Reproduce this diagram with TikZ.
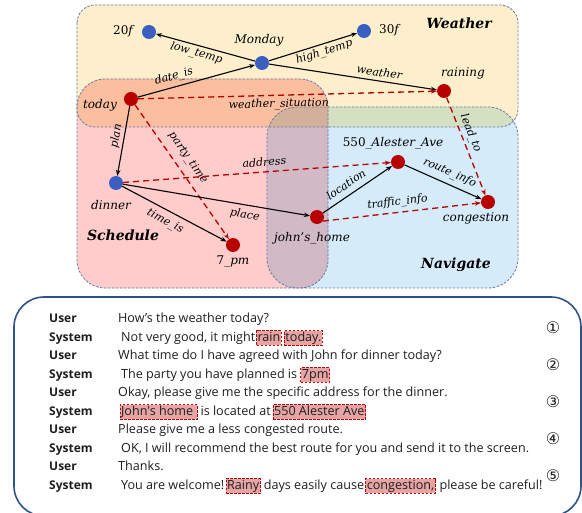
\documentclass[tikz,border=0pt]{standalone}
\usepackage{fontspec}
\usetikzlibrary{arrows.meta}
\newfontfamily\gfont{DejaVu Serif}
\newfontfamily\dfont{Open Sans}
\newfontfamily\cfont{DejaVu Sans}

\definecolor{wfill}{RGB}{253,239,204}
\definecolor{sfill}{RGB}{255,204,204}
\definecolor{nfill}{RGB}{213,235,250}
\definecolor{wsfill}{RGB}{251,191,160}
\definecolor{wnfill}{RGB}{212,224,194}
\definecolor{snfill}{RGB}{209,186,198}
\definecolor{wsnfill}{RGB}{211,176,153}
\definecolor{rborder}{RGB}{105,120,160}
\definecolor{entblue}{RGB}{59,95,192}
\definecolor{entred}{RGB}{183,0,0}
\definecolor{hlred}{RGB}{192,0,0}
\definecolor{hlfill}{RGB}{230,165,165}
\definecolor{panelblue}{RGB}{47,82,143}
\definecolor{txt}{RGB}{30,30,30}

\begin{document}
\begin{tikzpicture}[x=1pt,y=-1pt,
  region/.style={draw=rborder, dash pattern=on 2.5pt off 1.5pt, line width=0.8pt},
  ent/.style={circle, minimum size=14pt, inner sep=0pt},
  bent/.style={ent, fill=entblue},
  rent/.style={ent, fill=entred},
  nlab/.style={font=\gfont\itshape\fontsize{12}{14}\selectfont, inner sep=0pt},
  elab/.style={font=\gfont\itshape\fontsize{11}{13}\selectfont, inner sep=1pt, sloped, text=black},
  regtitle/.style={font=\gfont\bfseries\itshape\fontsize{14}{16}\selectfont, inner sep=0pt},
  rel/.style={-{Stealth[length=6pt,width=4.5pt]}, line width=1.1pt, black},
  hint/.style={-{Stealth[length=6pt,width=4.5pt]}, line width=1.3pt, entred, dash pattern=on 6pt off 4pt},
  spk/.style={font=\dfont\bfseries\fontsize{12}{14}\selectfont, anchor=base west, inner sep=0pt, text=txt},
  utt/.style={font=\dfont\fontsize{12.6}{14}\selectfont, anchor=base west, inner sep=0pt, text=txt},
  hl/.style={utt, draw=hlred, fill=hlfill, line width=1.1pt, dash pattern=on 2.5pt off 1.5pt,
             inner xsep=1pt, inner ysep=1.2pt, text height=9.5pt, text depth=2.8pt},
  stepno/.style={font=\cfont\fontsize{16}{18}\selectfont, inner sep=0pt, text=txt},
  panel/.style={draw=panelblue, line width=1.6pt, rounded corners=30pt}
]
\useasboundingbox (0,0) rectangle (582,513);

% ---------- domain regions ----------
\def\weatherarea{[rounded corners=18pt] (77,5) rectangle (518,127)}
\def\schedarea{[rounded corners=28pt] (77,79) rectangle (328,288)}
\def\navarea{[rounded corners=30pt] (267,107) rectangle (518,288)}

\fill[wfill] \weatherarea;
\fill[sfill] \schedarea;
\fill[nfill] \navarea;
\begin{scope}
  \clip \weatherarea;
  \fill[wsfill] \schedarea;
  \fill[wnfill] \navarea;
\end{scope}
\begin{scope}
  \clip \schedarea;
  \fill[snfill] \navarea;
  \clip \weatherarea;
  \fill[wsnfill] \navarea;
\end{scope}
\draw[region] \weatherarea;
\draw[region] \schedarea;
\draw[region] \navarea;

\node[regtitle] (tw) at (459,23) {Weather};
\node[regtitle] (ts) at (123,235) {Schedule};
\node[regtitle] (tn) at (456,265) {Navigate};

% ---------- entities ----------
\node[bent] (d20) at (149,32) {};
\node[bent] (mon) at (262,63) {};
\node[bent] (d30) at (364,31) {};
\node[rent] (rain) at (444,91) {};
\node[rent] (today) at (131,99) {};
\node[bent] (dinner) at (116,183) {};
\node[rent] (pm7) at (233,245) {};
\node[rent] (home) at (317,217) {};
\node[rent] (ave) at (398,162) {};
\node[rent] (cong) at (488,202) {};

\node[nlab] (l20) at (123,31) {\upshape 20\itshape f};
\node[nlab] (lmon) at (259,40) {Monday};
\node[nlab] (l30) at (389,30) {\upshape 30\itshape f};
\node[nlab] (lrain) at (463,73) {raining};
\node[nlab] (ltoday) at (100,105) {today};
\node[nlab] (ldinner) at (111,205) {dinner};
\node[nlab] (lpm7) at (233,262) {\upshape 7\itshape \_pm};
\node[nlab] (lhome) at (312,238) {john’s\_home};
\node[nlab] (lave) at (393,143) {\upshape 550\itshape \_Alester\_Ave};
\node[nlab] (lcong) at (476,218) {congestion};

% ---------- relations ----------
\draw[rel] (mon) -- node[elab, below=1pt, pos=0.57] {low\_temp} (d20);
\draw[rel] (mon) -- node[elab, below=1pt, pos=0.6] {high\_temp} (d30);
\draw[rel] (mon) -- node[elab, above=3pt, pos=0.65] {weather} (rain);
\draw[rel] (today) -- node[elab, above=3pt, pos=0.33] {date\_is} (mon);
\draw[hint] (today) -- node[elab, below=2pt, pos=0.47] {weather\_situation} (rain);
\draw[rel] (today) -- node[elab, above=1pt, pos=0.45] {plan} (dinner);
\draw[hint] (today) -- node[elab, above=6pt, pos=0.45] {party\_time} (pm7);
\draw[rel] (dinner) -- node[elab, below=4pt, pos=0.46] {time\_is} (pm7);
\draw[rel] (dinner) -- node[elab, below=3pt, pos=0.66] {place} (home);
\draw[hint] (dinner) -- node[elab, above=4pt, pos=0.53] {address} (ave);
\draw[rel] (home) -- node[elab, above=5pt, pos=0.42] {location} (ave);
\draw[rel] (ave) -- node[elab, above=4pt, pos=0.53] {route\_info} (cong);
\draw[hint] (home.-35) -- node[elab, above=3pt, pos=0.48] {traffic\_info} (cong);
\draw[hint] (rain) -- node[elab, above=2pt, pos=0.4] {lead\_to} (cong);

% ---------- dialogue ----------
\draw[panel] (14,297) rectangle (581,516);

\node[spk] (s1) at (49,323) {User};
\node[spk] (s2) at (49,341.5) {System};
\node[spk] (s3) at (49,360) {User};
\node[spk] (s4) at (49,378.5) {System};
\node[spk] (s5) at (49,397) {User};
\node[spk] (s6) at (49,415.5) {System};
\node[spk] (s7) at (49,434) {User};
\node[spk] (s8) at (49,452.5) {System};
\node[spk] (s9) at (49,471) {User};
\node[spk] (s10) at (49,489.5) {System};

\node[utt] (u1) at (118,323) {How’s the weather today?};
\node[utt] (u2a) at (121,341.5) {Not very good, it might};
\node[hl] (u2b) at ([xshift=0.5pt]u2a.base east) {rain};
\node[hl] (u2c) at ([xshift=2pt]u2b.base east) {today.};
\node[utt] (u3) at (118,360) {What time do I have agreed with John for dinner today?};
\node[utt] (u4a) at (121,378.5) {The party you have planned is};
\node[hl] (u4b) at ([xshift=3pt]u4a.base east) {7pm};
\node[utt] (u5) at (118,397) {Okay, please give me the specific address for the dinner.};
\node[hl] (u6a) at (119.5,415.5) {John's home\kern0.25em};
\node[utt] (u6b) at ([xshift=2.5pt]u6a.base east) {is located at};
\node[hl] (u6c) at ([xshift=1.5pt]u6b.base east) {550 Alester Ave};
\node[utt] (u7) at (118,434) {Please give me a less congested route.};
\node[utt] (u8) at (121,452.5) {OK, I will recommend the best route for you and send it to the screen.};
\node[utt] (u9) at (118,471) {Thanks.};
\node[utt] (u10a) at (121,489.5) {You are welcome!};
\node[hl] (u10b) at ([xshift=1pt]u10a.base east) {Rainy};
\node[utt] (u10c) at ([xshift=3pt]u10b.base east) {days easily cause};
\node[hl] (u10d) at ([xshift=1pt]u10c.base east) {congestion,};
\node[utt] (u10e) at ([xshift=3.5pt]u10d.base east) {please be careful!};

\node[stepno] (n1) at (553,328) {①};
\node[stepno] (n2) at (553,365) {②};
\node[stepno] (n3) at (553,402) {③};
\node[stepno] (n4) at (553,439) {④};
\node[stepno] (n5) at (553,476) {⑤};
\end{tikzpicture}
\end{document}
